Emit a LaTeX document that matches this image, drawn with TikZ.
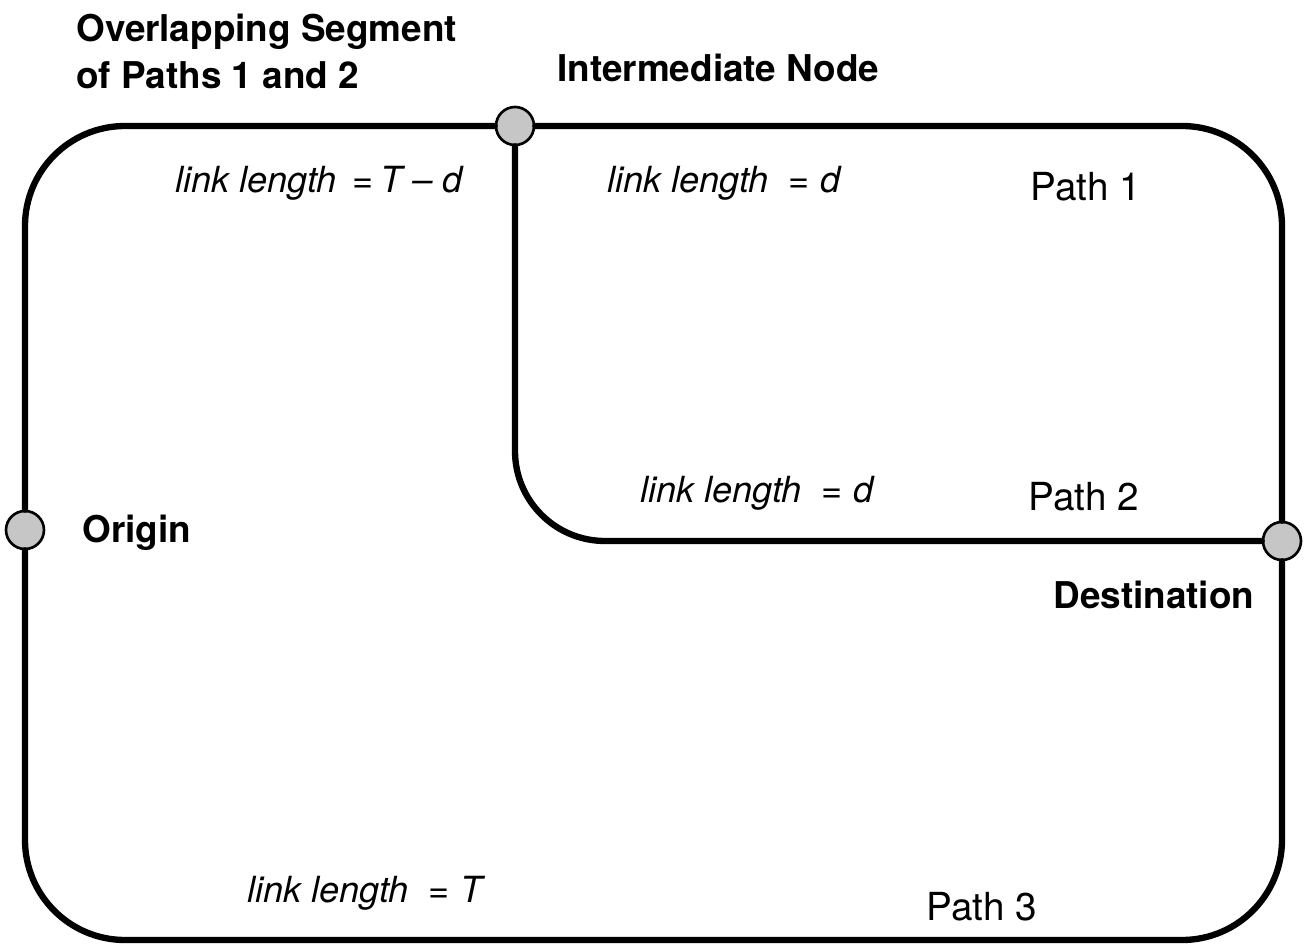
\documentclass[tikz,border=0pt]{standalone}
\usepackage{fontspec}
\setmainfont{TeX Gyre Heros}
\usetikzlibrary{calc}

\begin{document}
\begin{tikzpicture}[
  x=0.02cm,y=-0.02cm,
  line cap=round,
  junction/.style={circle,draw=black,line width=1.5pt,fill=gray!45,
                   minimum size=0.76cm,inner sep=0pt},
  link/.style={line width=3.6pt,black},
  lab/.style={font=\fontsize{22}{27}\selectfont,inner sep=0pt,anchor=west},
  place/.style={lab,font=\fontsize{21}{26.5}\selectfont\bfseries},
  len/.style={lab,font=\fontsize{20.5}{25.5}\selectfont\itshape}
]
\useasboundingbox (0,0) rectangle (1312,952);

% ---- Knoten ----
\node[junction] (origin) at (25,530) {};
\node[junction] (inter)  at (515,126) {};
\node[junction] (dest)   at (1282,541) {};
\coordinate (bottom) at (650,940);

% ---- Pfade ----
% Pfad 1 und 2: gemeinsamer Abschnitt oben links
\draw[link,rounded corners=2cm] (origin) |- (inter);
% Pfad 1: oben rechts herum
\draw[link,rounded corners=2cm] (inter) -| (dest);
% Pfad 2: innen herunter
\draw[link,rounded corners=1.8cm] (inter) |- (dest);
% Pfad 3: unten herum
\draw[link,rounded corners=2cm] (origin) |- (bottom) -| (dest);

% ---- Beschriftungen ----
\node[place,anchor=north west,align=left] (overlap) at (76,14)
  {Overlapping Segment\\of Paths 1 and 2};
\node[place] (interlab) at (557,68) {Intermediate Node};
\node[place] (originlab) at (82,533) {Origin};
\node[place] (destlab) at (1053,595) {Destination};

\node[len] (lenTd) at (175,183) {link length \,=\,T -- d};
\node[len] (lenD1) at (607,183) {link length \ =\ d};
\node[len] (lenD2) at (640,493) {link length \ =\ d};
\node[len] (lenT)  at (247,893) {link length \ =\ T};

\node[lab] (path1) at (1030,187) {Path 1};
\node[lab] (path2) at (1028,497) {Path 2};
\node[lab] (path3) at (926,907) {Path 3};

\end{tikzpicture}
\end{document}
